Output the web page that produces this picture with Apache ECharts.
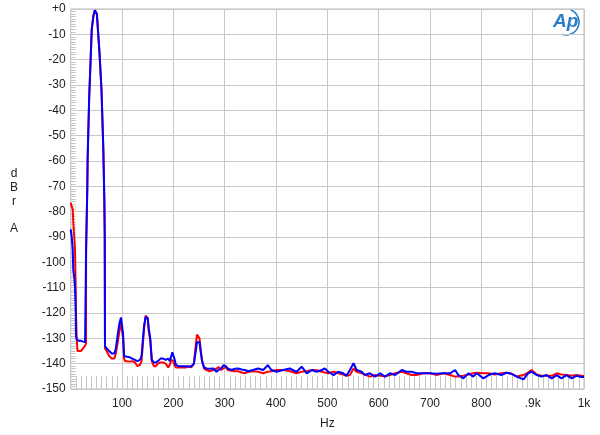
<!DOCTYPE html>
<html>
<head>
<meta charset="utf-8">
<script src="https://cdn.jsdelivr.net/npm/echarts@6/dist/echarts.min.js"></script>
<style>
html,body{margin:0;padding:0;background:#fff;}
#chart{width:600px;height:435px;}
</style>
</head>
<body>
<div id="chart"></div>
<script>
// Frequencies (Hz) shared by both channels
var freqs = [0, 2, 3.9, 5, 7, 8.4, 9.7, 10.3, 11.7, 13.2, 16, 20, 24, 28, 29.8, 30, 31, 32.3, 33, 36, 39, 41, 44, 47, 49, 51, 53, 56, 60, 63.5, 65.5, 66.3, 66.8,
  70, 75, 80, 85, 88, 92, 95, 98, 100, 102, 104, 106, 110, 115, 120, 125, 130, 135, 138, 140, 143, 146, 148, 150, 152, 155, 158, 162, 166, 170, 175, 180, 185, 190, 193, 196, 198, 200, 202, 205, 210, 215, 220, 225, 230, 235, 240, 243, 246, 249, 251, 253, 256, 260,
  265, 270, 278, 284, 288, 293, 298, 302, 306, 313, 320, 326, 333, 339, 346, 355, 365, 375, 384, 391, 401, 414, 427, 440, 450, 460, 470, 479, 489, 495, 502, 512, 521, 531, 537, 544, 551, 557, 567, 573, 583, 593, 603, 612, 622, 632, 645, 654, 664, 674, 687, 700, 713, 726, 739, 749, 755, 765, 775, 784, 791, 804, 814, 826, 839, 849, 859, 869, 882, 891, 898, 908, 917, 927, 937, 947, 956, 966, 976, 985, 995, 1000];

// Blue channel (dBr A)
var blueVals = [-87, -90, -95, -103, -106, -110, -118, -129, -130.5, -131, -131, -131, -131.3, -131.5, -131, -95, -95, -71, -59, -35, -19, -8, -3, -0.5, 0, -2, -2, -17, -32, -55, -75, -89, -133,
  -134, -135, -136, -136, -134, -128, -124, -121.8, -122.5, -128, -137, -137.5, -137.3, -137.5, -138, -138.5, -139, -138.5, -137, -132, -125, -121.5, -121, -122, -126, -130, -138.5, -139.5, -139.5, -139, -138, -138, -138.5, -138, -139, -137, -135.5, -136, -138, -140.5, -141, -141, -141, -141, -141.2, -141, -140, -136, -131.5, -130.8, -131.5, -135, -139, -141.5,
  -141.9, -142, -141.9, -143.2, -142.5, -141.9, -140.6, -141, -141.9, -142.5, -142, -141.9, -142.3, -142.5, -143, -142.5, -141.9, -142.5, -140.6, -142.5, -143.2, -142.5, -141.9, -143.2, -141.2, -143.8, -142.5, -143.2, -142.5, -141.9, -143.2, -144.5, -143.2, -143.8, -144.8, -142.5, -139.8, -142.5, -143.2, -144.5, -143.8, -145.1, -143.8, -145.1, -143.8, -144.5, -142.5, -143.2, -143.2, -143.8, -143.8, -143.8, -144, -143.8, -143.8, -142.5, -144.5, -145.8, -143.8, -145.1, -143.8, -145.8, -144.5, -143.8, -144.5, -143.6, -144, -145.1, -146.2, -143.8, -143.2, -144.5, -145.1, -144.5, -145.8, -144.5, -145.8, -144.5, -145.8, -144.8, -145.3, -145.3];

// Red channel (dBr A)
var redVals = [-76.5, -78, -79, -84, -90, -95, -110, -120, -130, -135, -135.5, -135, -134, -133, -132, -95, -95, -71, -59, -35, -19, -8, -3, -0.5, 0, -2, -2, -17, -32, -55, -75, -89, -134,
  -135, -137, -138, -138, -136, -131, -127, -124, -124.5, -130, -138, -139, -139, -139.2, -139, -139.5, -141, -140.5, -139, -134, -126, -121, -120.8, -122, -127, -131, -139, -141, -141, -140, -139.5, -139.5, -140, -141.5, -140.5, -138.5, -138, -139, -140.5, -141.5, -141.5, -141.5, -141.5, -141.5, -141, -141.5, -140, -134, -128.5, -128.3, -130, -134, -139, -142,
  -142.5, -143, -142.5, -142, -141.3, -142.5, -141.8, -141.3, -142.5, -142.8, -143, -143, -143.5, -143.8, -143.2, -143, -143.2, -143.8, -143.2, -143, -142.5, -142.5, -143, -143.8, -143.2, -143, -142.5, -142.6, -143.2, -143.5, -143.8, -143.2, -143.8, -144.3, -144.8, -144.5, -141.9, -143.2, -143.8, -144.3, -145.1, -144.5, -144.8, -145, -144.5, -143.8, -143.2, -143.8, -144.5, -144.5, -143.8, -143.8, -144.5, -143.8, -144.5, -145.1, -145.1, -144.8, -144.3, -143.8, -143.6, -143.8, -143.8, -144.3, -143.8, -143.6, -144, -145.1, -144.5, -143.5, -142.5, -144.3, -144.8, -144.8, -144.8, -143.8, -144.3, -144.5, -144.8, -144.5, -144.8, -145];

var yTicks = { 0: '+0' };
var xTickLabels = { 0: '', 900: '.9k', 1000: '1k' };

function pairs(xs, ys) {
  var out = [];
  for (var i = 0; i < xs.length; i++) out.push([xs[i], ys[i]]);
  return out;
}

var chart = echarts.init(document.getElementById('chart'), null, { renderer: 'canvas' });
var font = 'Liberation Sans, Arial, sans-serif';
chart.setOption({
  animation: false,
  backgroundColor: '#ffffff',
  grid: { left: 70.7, right: 16, top: 9, bottom: 42, show: true, borderColor: '#b8b8b8', borderWidth: 1 },
  xAxis: {
    type: 'value', min: 0, max: 1000, interval: 100,
    name: 'Hz', nameLocation: 'middle', nameGap: 29,
    nameTextStyle: { color: '#222', fontSize: 12, fontFamily: font },
    axisLine: { show: false, onZero: false },
    axisTick: { show: false },
    minorTick: { show: true, splitNumber: 10, length: -13, lineStyle: { color: '#c4c4c4', width: 1 } },
    splitLine: { show: true, lineStyle: { color: '#c8c8c8', width: 1 } },
    axisLabel: {
      color: '#222', fontSize: 12, fontFamily: font, margin: 9,
      formatter: function (v) { return (v in xTickLabels) ? xTickLabels[v] : String(v); }
    }
  },
  yAxis: {
    type: 'value', min: -150, max: 0, interval: 10,
    axisLine: { show: false, onZero: false },
    axisTick: { show: false },
    minorTick: { show: true, splitNumber: 10, length: -5, lineStyle: { color: '#c4c4c4', width: 1 } },
    splitLine: { show: true, lineStyle: { color: '#c8c8c8', width: 1 } },
    axisLabel: {
      color: '#222', fontSize: 12, fontFamily: font, margin: 5,
      formatter: function (v) { return (v in yTicks) ? yTicks[v] : String(v); }
    }
  },
  graphic: [
    { type: 'text', left: 10, top: 167, style: { text: 'd\nB\nr\n\nA', fill: '#222', fontSize: 12, fontFamily: font, lineHeight: 13.7, textAlign: 'center' } },
    { type: 'text', left: 553, top: 12, style: { text: 'Ap', fill: '#2a7fc4', fontSize: 19, fontStyle: 'italic', fontWeight: 'bold', fontFamily: font } },
    { type: 'arc', shape: { cx: 566, cy: 22, r: 13, startAngle: -1.2, endAngle: 1.9 }, style: { stroke: '#2a7fc4', lineWidth: 1.6, fill: null } }
  ],
  series: [
    { type: 'line', data: pairs(freqs, redVals), showSymbol: false, lineStyle: { color: '#ff0000', width: 2 }, itemStyle: { color: '#ff0000' }, z: 2 },
    { type: 'line', data: pairs(freqs, blueVals), showSymbol: false, lineStyle: { color: '#0000ff', width: 2 }, itemStyle: { color: '#0000ff' }, z: 3 }
  ]
});
</script>
</body>
</html>
